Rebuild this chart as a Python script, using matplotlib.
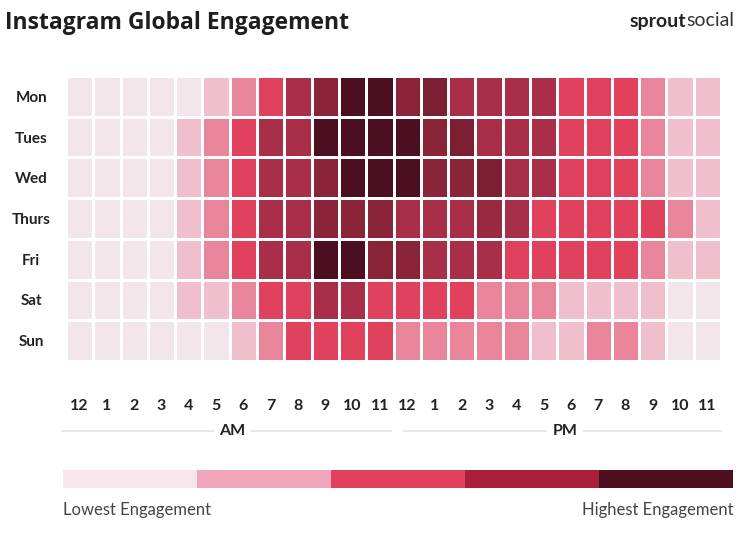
import numpy as np
import matplotlib
matplotlib.use("Agg")
from matplotlib import pyplot as plt
from matplotlib.colors import LinearSegmentedColormap

plt.rcParams['font.family'] = ['Lato', 'DejaVu Sans']

# data: engagement level 0 (lowest) .. 7 (highest), columns 12AM .. 11PM
days = ['Mon', 'Tues', 'Wed', 'Thurs', 'Fri', 'Sat', 'Sun']
hours = ['12', '1', '2', '3', '4', '5', '6', '7', '8', '9', '10', '11',
         '12', '1', '2', '3', '4', '5', '6', '7', '8', '9', '10', '11']
mon = [0, 0, 0, 0, 0, 1, 2, 3, 4, 5, 7, 7, 5, 5.5, 4, 4, 4, 4, 3, 3, 3, 2, 1, 1]
tue = [0, 0, 0, 0, 1, 2, 3, 4, 4, 7, 7, 7, 7, 5, 5.5, 4, 4, 4, 3, 3, 3, 2, 1, 1]
wed = [0, 0, 0, 0, 1, 2, 3, 4, 4, 5, 7, 7, 7, 5, 5, 5.5, 4, 4, 3, 3, 3, 2, 1, 1]
thu = [0, 0, 0, 0, 1, 2, 3, 4, 4, 5, 5, 5, 4, 4, 4, 4.5, 4, 3, 3, 3, 3, 3, 2, 1]
fri = [0, 0, 0, 0, 1, 2, 3, 4, 4, 7, 7, 5, 5, 4, 4, 4, 3, 3, 3, 3, 3, 2, 1, 1]
sat = [0, 0, 0, 0, 1, 1, 2, 3, 3, 4, 4, 3, 3, 3, 3, 2, 2, 2, 1, 1, 1, 1, 0, 0]
sun = [0, 0, 0, 0, 0, 0, 1, 2, 3, 3, 3, 3, 2, 2, 2, 2, 2, 1, 1, 2, 2, 1, 0, 0]

shade_colors = ['#f3e6eb', '#f1bfcb', '#e8859a', '#e0405c',
                '#a92f48', '#8a2438', '#6e1a2d', '#4b0f1f']
legend_colors = ['#f6e5eb', '#f0a7bb', '#e1415d', '#a91f38', '#4e0f1e']

grid = np.array([mon, tue, wed, thu, fri, sat, sun])
cmap = LinearSegmentedColormap.from_list('sprout', shade_colors)

fig = plt.figure(figsize=(7.5, 5.36), dpi=100)
W, H = 750., 536.

fig.text(5/W, 1 - 23/H, 'Instagram Global Engagement', fontsize=16.5,
         fontweight='bold', family=['Open Sans', 'DejaVu Sans'],
         color='#1e1e1e', va='center', ha='left')
fig.text(686/W, 1 - 21/H, 'sprout', fontsize=14, fontweight='bold',
         color='#222222', va='center', ha='right')
fig.text(686/W, 1 - 21/H, 'social', fontsize=14, color='#333333',
         va='center', ha='left')

# heatmap
ax = fig.add_axes([66/W, 1 - 361/H, 655/W, 285/H])
ax.pcolormesh(np.arange(25), np.arange(8), grid, cmap=cmap, vmin=0, vmax=7,
              edgecolors='white', linewidth=1.8)
ax.set_xlim(0, 24)
ax.set_ylim(7, 0)
for s in ax.spines.values():
    s.set_visible(False)
ax.set_yticks(np.arange(7) + 0.5)
ax.set_yticklabels(days, fontsize=11, fontweight='bold', color='#222222',
                   ha='center')
ax.tick_params(axis='y', length=0, pad=25)
ax.set_xticks(np.arange(24) + 0.5)
ax.set_xticklabels(hours, fontsize=11.5, fontweight='bold', color='#222222')
ax.tick_params(axis='x', length=0, pad=27)

# AM / PM brackets
tr = ax.get_xaxis_transform()
ax.plot([-0.15, 11.9], [-0.245, -0.245], color='#e3e3e3', lw=1.2,
        transform=tr, clip_on=False)
ax.plot([12.4, 24.0], [-0.245, -0.245], color='#e3e3e3', lw=1.2,
        transform=tr, clip_on=False)
for xc, lab in [(6.1, 'AM'), (18.3, 'PM')]:
    ax.text(xc, -0.245, lab, transform=tr, ha='center', va='center',
            fontsize=11.5, fontweight='bold', color='#222222',
            bbox=dict(facecolor='white', edgecolor='none', pad=4))

# legend bar
lax = fig.add_axes([63/W, 1 - 488/H, 670/W, 18/H])
lax.barh(0, np.ones(5), left=np.arange(5), color=legend_colors, height=1)
lax.set_xlim(0, 5)
lax.set_ylim(-0.5, 0.5)
lax.axis('off')

fig.text(63/W, 1 - 510/H, 'Lowest Engagement', fontsize=12, color='#444444',
         ha='left', va='center')
fig.text(733/W, 1 - 510/H, 'Highest Engagement', fontsize=12, color='#444444',
         ha='right', va='center')

fig.savefig('out.png', dpi=100)
